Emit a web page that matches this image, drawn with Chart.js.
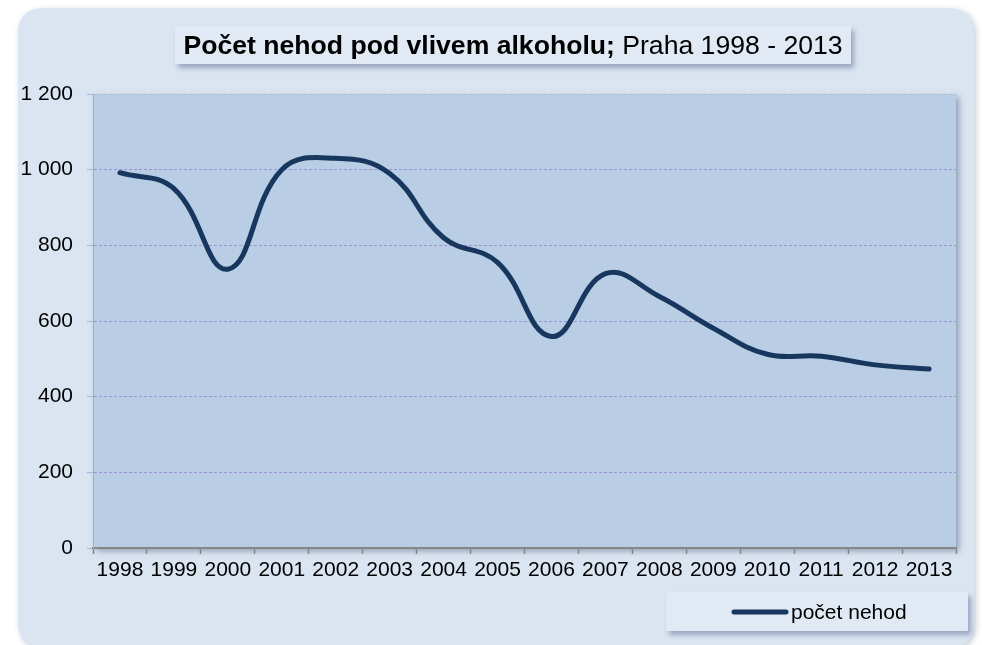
<!DOCTYPE html>
<html>
<head>
<meta charset="utf-8">
<script src="https://cdn.jsdelivr.net/npm/chart.js@4"></script>
<style>
  html, body { margin: 0; padding: 0; background: #ffffff; }
  #wrap { width: 982px; height: 645px; position: relative; }
</style>
</head>
<body>
<div id="wrap"><canvas id="nehody"></canvas></div>
<script>
// data
const roky = ['1998', '1999', '2000', '2001', '2002', '2003', '2004', '2005',
  '2006', '2007', '2008', '2009', '2010', '2011', '2012', '2013'];
const pocetNehod = [992, 950, 737, 1000, 1030, 990, 820, 755,
  559, 725, 665, 581, 512, 507, 484, 473];
const osaYTicks = [0, 200, 400, 600, 800, 1000, 1200];

const titulekTucne = 'Počet nehod pod vlivem alkoholu;';
const titulekNormal = ' Praha 1998 - 2013';
const legendaText = 'počet nehod';

const FONT = "'Liberation Sans', Arial, sans-serif";

function roundRect(ctx, x, y, w, h, r) {
  ctx.beginPath();
  ctx.moveTo(x + r, y);
  ctx.lineTo(x + w - r, y);
  ctx.quadraticCurveTo(x + w, y, x + w, y + r);
  ctx.lineTo(x + w, y + h - r);
  ctx.quadraticCurveTo(x + w, y + h, x + w - r, y + h);
  ctx.lineTo(x + r, y + h);
  ctx.quadraticCurveTo(x, y + h, x, y + h - r);
  ctx.lineTo(x, y + r);
  ctx.quadraticCurveTo(x, y, x + r, y);
  ctx.closePath();
}

// pozadi, titulek a legenda
const pozadi = {
  id: 'pozadi',
  beforeDraw(chart) {
    const ctx = chart.ctx;
    const a = chart.chartArea;
    ctx.save();

    // vnejsi ramecek
    ctx.shadowColor = 'rgba(90,110,140,0.35)';
    ctx.shadowBlur = 6;
    ctx.shadowOffsetX = 2;
    ctx.shadowOffsetY = 2;
    ctx.fillStyle = '#dbe5f1';
    roundRect(ctx, 18, 8, 956, 640, 26);
    ctx.fill();

    // plocha grafu
    ctx.shadowColor = 'rgba(70,90,130,0.5)';
    ctx.shadowBlur = 6;
    ctx.shadowOffsetX = 3;
    ctx.shadowOffsetY = 3;
    ctx.fillStyle = '#b9cde5';
    ctx.fillRect(a.left, a.top, a.right - a.left, a.bottom - a.top);

    // titulek
    ctx.shadowColor = 'rgba(70,90,130,0.45)';
    ctx.shadowBlur = 5;
    ctx.shadowOffsetX = 3;
    ctx.shadowOffsetY = 4;
    ctx.fillStyle = '#e0e9f4';
    ctx.fillRect(175, 26, 676, 38);

    // legenda
    ctx.fillRect(666, 592, 302, 39);
    ctx.restore();

    ctx.save();
    ctx.fillStyle = '#000000';
    ctx.textBaseline = 'alphabetic';
    ctx.font = 'bold 26.6px ' + FONT;
    const w1 = ctx.measureText(titulekTucne).width;
    ctx.font = '26.6px ' + FONT;
    const w2 = ctx.measureText(titulekNormal).width;
    let x = 513 - (w1 + w2) / 2;
    ctx.font = 'bold 26.6px ' + FONT;
    ctx.fillText(titulekTucne, x, 54);
    ctx.font = '26.6px ' + FONT;
    ctx.fillText(titulekNormal, x + w1, 54);

    // legenda - znacka a text
    ctx.strokeStyle = '#17375e';
    ctx.lineWidth = 5;
    ctx.lineCap = 'round';
    ctx.beginPath();
    ctx.moveTo(734, 612);
    ctx.lineTo(786, 612);
    ctx.stroke();
    ctx.font = '21px ' + FONT;
    ctx.fillText(legendaText, 791, 619);
    ctx.restore();
  }
};

function mezery(v) {
  return String(v).replace(/\B(?=(\d{3})+(?!\d))/g, ' ');
}

new Chart(document.getElementById('nehody'), {
  type: 'line',
  data: {
    labels: roky,
    datasets: [{
      label: legendaText,
      data: pocetNehod,
      borderColor: '#17375e',
      borderWidth: 5,
      borderCapStyle: 'round',
      tension: 0.42,
      pointRadius: 0,
      fill: false
    }]
  },
  options: {
    responsive: true,
    maintainAspectRatio: false,
    animation: false,
    layout: { padding: { left: 0, top: 94, right: 26, bottom: 57 } },
    plugins: {
      legend: { display: false },
      title: { display: false },
      tooltip: { enabled: false }
    },
    scales: {
      x: {
        offset: true,
        afterFit(s) { s.height = 40; },
        grid: {
          offset: true,
          drawOnChartArea: false,
          tickLength: 6,
          tickColor: '#868686',
          tickWidth: 1.5
        },
        border: { color: '#868686', width: 2 },
        ticks: {
          color: '#000000',
          padding: 4,
          maxRotation: 0,
          autoSkip: false,
          font: { family: FONT, size: 21 }
        }
      },
      y: {
        min: 0,
        max: 1200,
        afterFit(s) { s.width = 93; },
        afterBuildTicks(s) { s.ticks = osaYTicks.map(v => ({ value: v })); },
        grid: {
          color(c) {
            if (c.tick.value === 0) return 'rgba(0,0,0,0)';
            if (c.tick.value === 1200) return '#a7bedd';
            return 'rgba(135,115,200,0.65)';
          },
          tickColor: '#9fb8da',
          tickLength: 6,
          lineWidth: 1
        },
        border: { color: '#95b3d7', width: 1, dash: [3, 2] },
        ticks: {
          color: '#000000',
          padding: 14,
          font: { family: FONT, size: 21 },
          callback: v => mezery(v)
        }
      }
    }
  },
  plugins: [pozadi]
});
</script>
</body>
</html>
